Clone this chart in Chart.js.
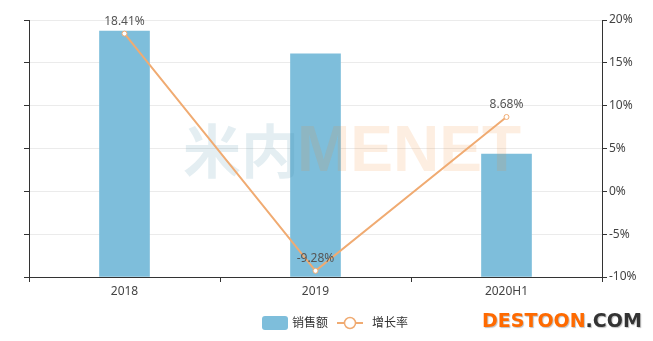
<!DOCTYPE html>
<html>
<head>
<meta charset="utf-8">
<script src="https://cdn.jsdelivr.net/npm/chart.js@4.4.0/dist/chart.umd.min.js"></script>
<style>
  html, body { margin: 0; padding: 0; background: #fff; }
  #wrap { width: 653px; height: 341px; position: relative; }
</style>
</head>
<body>
<div id="wrap"><canvas id="c" width="653" height="341"></canvas></div>
<script>
// Categories and series
const categories = ['2018', '2019', '2020H1'];
const salesValues = [574, 521, 287];          // 销售额 (left axis, unlabeled)
const growthValues = [18.41, -9.28, 8.68];    // 增长率 (%)
const growthTicks = [-10, -5, 0, 5, 10, 15, 20];

const FONT = "'Noto Sans', 'Noto Sans CJK SC', sans-serif";
const BAR_COLOR = '#7ebedb';
const LINE_COLOR = '#f0ab72';
const AXIS_COLOR = '#333333';

// Faint brand mark drawn over the bars, under the line
const watermark = {
  id: 'watermark',
  afterDatasetDraw(chart, args) {
    if (args.index !== 0) return;
    const ctx = chart.ctx;
    ctx.save();
    ctx.globalAlpha = 0.14;
    ctx.textBaseline = 'middle';
    ctx.font = "bold 58px 'Noto Sans CJK SC', sans-serif";
    ctx.fillStyle = '#3f86a3';
    ctx.fillText('米内', 183, 151);
    const w = ctx.measureText('米内').width;
    ctx.font = "bold 64px 'Liberation Sans', sans-serif";
    ctx.fillStyle = '#f08a2c';
    ctx.fillText('MENET', 183 + w - 2, 153);
    ctx.restore();
  }
};

// Value labels above the growth points
const pointLabels = {
  id: 'pointLabels',
  afterDatasetsDraw(chart) {
    const ctx = chart.ctx;
    const meta = chart.getDatasetMeta(1);
    ctx.save();
    ctx.font = '12px ' + FONT;
    ctx.fillStyle = '#555';
    ctx.textAlign = 'center';
    ctx.textBaseline = 'bottom';
    meta.data.forEach((pt, i) => {
      ctx.fillText(growthValues[i].toFixed(2) + '%', pt.x, pt.y - 6);
    });
    ctx.restore();
  }
};

// Legend and site mark along the bottom
const bottomDecor = {
  id: 'bottomDecor',
  afterDraw(chart) {
    const ctx = chart.ctx;
    ctx.save();
    const cy = 323;
    // bar swatch
    ctx.fillStyle = BAR_COLOR;
    ctx.beginPath();
    ctx.roundRect(262, cy - 7, 26, 14, 3);
    ctx.fill();
    ctx.font = '12px ' + FONT;
    ctx.fillStyle = '#333';
    ctx.textBaseline = 'middle';
    ctx.fillText(chart.data.datasets[0].label, 292, cy + 1);
    // line swatch
    ctx.strokeStyle = LINE_COLOR;
    ctx.lineWidth = 2;
    ctx.beginPath();
    ctx.moveTo(337, cy); ctx.lineTo(344, cy);
    ctx.moveTo(356, cy); ctx.lineTo(363, cy);
    ctx.stroke();
    ctx.beginPath();
    ctx.arc(350, cy, 5.5, 0, Math.PI * 2);
    ctx.fillStyle = '#fff';
    ctx.fill();
    ctx.lineWidth = 1.5;
    ctx.stroke();
    ctx.fillStyle = '#333';
    ctx.fillText(chart.data.datasets[1].label, 372, cy + 1);

    // DESTOON.COM
    ctx.font = "bold 19px 'DejaVu Sans', sans-serif";
    ctx.textBaseline = 'alphabetic';
    const t1 = 'DESTOON', t2 = '.COM';
    ctx.shadowColor = 'rgba(0,0,0,0.25)';
    ctx.shadowOffsetX = 1; ctx.shadowOffsetY = 1; ctx.shadowBlur = 1;
    ctx.fillStyle = '#ff6a00';
    ctx.fillText(t1, 482, 327);
    const w1 = ctx.measureText(t1).width;
    ctx.fillStyle = '#333';
    ctx.fillText(t2, 482 + w1, 327);
    ctx.restore();
  }
};

new Chart(document.getElementById('c'), {
  type: 'bar',
  data: {
    labels: categories,
    datasets: [
      {
        type: 'bar',
        label: '销售额',
        data: salesValues,
        backgroundColor: BAR_COLOR,
        yAxisID: 'y',
        barThickness: 50,
        order: 1
      },
      {
        type: 'line',
        label: '增长率',
        data: growthValues,
        borderColor: LINE_COLOR,
        borderWidth: 2,
        pointRadius: 2.5,
        pointBorderWidth: 1,
        pointBackgroundColor: '#fff',
        pointBorderColor: LINE_COLOR,
        tension: 0,
        yAxisID: 'y1',
        order: 0
      }
    ]
  },
  options: {
    responsive: false,
    animation: false,
    layout: { padding: { top: 20, right: 0, left: 0, bottom: 0 } },
    plugins: {
      legend: { display: false },
      tooltip: { enabled: false }
    },
    scales: {
      x: {
        grid: {
          offset: true,
          drawOnChartArea: false,
          drawTicks: true,
          tickLength: 5,
          tickColor: AXIS_COLOR
        },
        border: { color: AXIS_COLOR, width: 1 },
        ticks: { color: '#444', font: { family: FONT, size: 12 }, padding: 2 },
        afterFit(scale) { scale.height = 64; }
      },
      y: {
        position: 'left',
        min: 0,
        max: 600,
        ticks: { stepSize: 100, display: false },
        grid: { color: '#ebebeb', tickColor: AXIS_COLOR, tickLength: 5, drawTicks: true },
        border: { color: AXIS_COLOR, width: 1 },
        afterFit(scale) { scale.width = 29; }
      },
      y1: {
        position: 'right',
        min: -10,
        max: 20,
        afterBuildTicks(scale) { scale.ticks = growthTicks.map(v => ({ value: v })); },
        ticks: {
          color: '#444',
          font: { family: FONT, size: 12 },
          padding: 2,
          callback: v => v + '%'
        },
        grid: { drawOnChartArea: false, tickColor: AXIS_COLOR, tickLength: 5 },
        border: { color: AXIS_COLOR, width: 1 },
        afterFit(scale) { scale.width = 51; }
      }
    }
  },
  plugins: [watermark, pointLabels, bottomDecor]
});
</script>
</body>
</html>
